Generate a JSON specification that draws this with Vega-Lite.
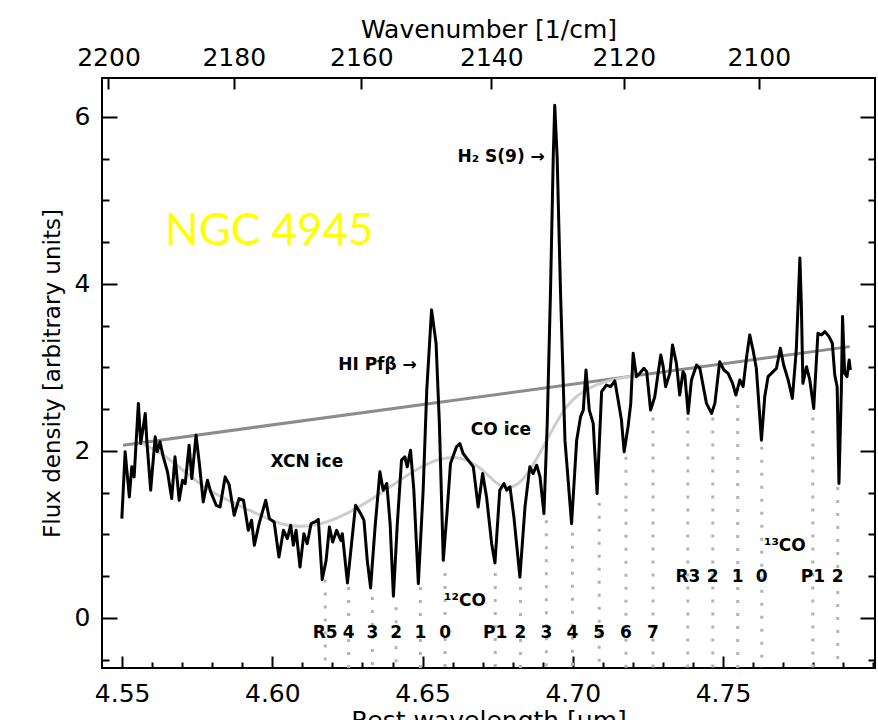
{
  "$schema": "https://vega.github.io/schema/vega-lite/v6.json",
  "width": 773,
  "height": 590,
  "autosize": {"type": "none"},
  "padding": {"left": 102, "top": 78, "right": 3, "bottom": 52},
  "background": "white",
  "config": {
    "view": {"stroke": "black", "strokeWidth": 2},
    "axis": {
      "labelFont": "DejaVu Sans", "titleFont": "DejaVu Sans",
      "labelColor": "black", "titleColor": "black", "tickColor": "black",
      "labelFontSize": 25, "titleFontSize": 25, "titleFontWeight": "normal",
      "tickWidth": 2, "domain": false, "grid": false
    }
  },
  "datasets": {
    "spec": [
      {"w":4.5499,"f":1.19},{"w":4.5510,"f":1.99},{"w":4.5524,"f":1.45},{"w":4.5532,"f":1.81},{"w":4.5540,"f":1.69},
      {"w":4.5554,"f":2.57},{"w":4.5562,"f":2.09},{"w":4.5577,"f":2.45},{"w":4.5582,"f":2.13},{"w":4.5595,"f":1.53},
      {"w":4.5610,"f":2.17},{"w":4.5617,"f":1.99},{"w":4.5626,"f":2.11},{"w":4.5637,"f":1.93},{"w":4.5651,"f":1.75},
      {"w":4.5665,"f":1.43},{"w":4.5676,"f":1.93},{"w":4.5690,"f":1.41},{"w":4.5701,"f":1.65},{"w":4.5710,"f":1.61},
      {"w":4.5723,"f":2.07},{"w":4.5732,"f":1.67},{"w":4.5746,"f":2.19},{"w":4.5757,"f":1.85},{"w":4.5770,"f":1.39},
      {"w":4.5784,"f":1.65},{"w":4.5795,"f":1.51},{"w":4.5813,"f":1.35},{"w":4.5826,"f":1.33},{"w":4.5843,"f":1.69},
      {"w":4.5856,"f":1.60},{"w":4.5873,"f":1.23},{"w":4.5889,"f":1.43},{"w":4.5904,"f":1.41},{"w":4.5920,"f":1.05},
      {"w":4.5931,"f":1.17},{"w":4.5940,"f":0.87},{"w":4.5956,"f":1.13},{"w":4.5978,"f":1.41},{"w":4.5990,"f":1.19},
      {"w":4.6006,"f":1.15},{"w":4.6022,"f":0.73},{"w":4.6037,"f":1.05},{"w":4.6050,"f":0.95},{"w":4.6061,"f":1.11},
      {"w":4.6070,"f":0.87},{"w":4.6079,"f":1.05},{"w":4.6092,"f":0.61},{"w":4.6105,"f":1.01},{"w":4.6116,"f":0.89},
      {"w":4.6129,"f":1.13},{"w":4.6142,"f":1.15},{"w":4.6153,"f":1.18},{"w":4.6166,"f":0.46},{"w":4.6179,"f":0.69},
      {"w":4.6190,"f":1.09},{"w":4.6201,"f":0.91},{"w":4.6214,"f":1.05},{"w":4.6228,"f":0.93},{"w":4.6233,"f":1.01},
      {"w":4.6250,"f":0.42},{"w":4.6277,"f":1.35},{"w":4.6294,"f":1.25},{"w":4.6305,"f":1.17},{"w":4.6316,"f":0.69},
      {"w":4.6327,"f":0.36},{"w":4.6342,"f":1.09},{"w":4.6358,"f":1.75},{"w":4.6369,"f":1.53},{"w":4.6381,"f":1.61},
      {"w":4.6392,"f":1.13},{"w":4.6403,"f":0.26},{"w":4.6416,"f":1.13},{"w":4.6430,"f":1.89},{"w":4.6441,"f":1.93},
      {"w":4.6449,"f":1.81},{"w":4.6460,"f":2.01},{"w":4.6471,"f":1.53},{"w":4.6486,"f":0.41},{"w":4.6502,"f":1.53},
      {"w":4.6514,"f":2.73},{"w":4.6530,"f":3.69},{"w":4.6545,"f":3.29},{"w":4.6556,"f":2.33},{"w":4.6569,"f":0.69},
      {"w":4.6582,"f":1.29},{"w":4.6593,"f":1.85},{"w":4.6613,"f":2.05},{"w":4.6624,"f":2.09},{"w":4.6635,"f":1.97},
      {"w":4.6652,"f":1.89},{"w":4.6669,"f":1.81},{"w":4.6685,"f":1.33},{"w":4.6700,"f":1.73},{"w":4.6713,"f":1.45},
      {"w":4.6730,"f":0.89},{"w":4.6741,"f":0.66},{"w":4.6757,"f":1.53},{"w":4.6771,"f":1.61},{"w":4.6780,"f":1.53},
      {"w":4.6791,"f":1.57},{"w":4.6804,"f":1.21},{"w":4.6824,"f":0.49},{"w":4.6841,"f":1.33},{"w":4.6857,"f":1.81},
      {"w":4.6868,"f":1.73},{"w":4.6880,"f":1.83},{"w":4.6891,"f":1.69},{"w":4.6904,"f":1.25},{"w":4.6915,"f":2.33},
      {"w":4.6926,"f":3.93},{"w":4.6935,"f":5.52},{"w":4.6940,"f":6.14},{"w":4.6948,"f":5.52},{"w":4.6959,"f":3.93},
      {"w":4.6974,"f":2.13},{"w":4.6996,"f":1.13},{"w":4.7013,"f":2.13},{"w":4.7026,"f":2.41},{"w":4.7035,"f":2.49},
      {"w":4.7044,"f":2.97},{"w":4.7055,"f":2.49},{"w":4.7068,"f":2.33},{"w":4.7081,"f":1.49},{"w":4.7096,"f":2.71},
      {"w":4.7112,"f":2.79},{"w":4.7126,"f":2.77},{"w":4.7140,"f":2.84},{"w":4.7151,"f":2.61},{"w":4.7162,"f":2.37},
      {"w":4.7171,"f":1.99},{"w":4.7184,"f":2.29},{"w":4.7193,"f":2.57},{"w":4.7201,"f":3.17},{"w":4.7212,"f":2.89},
      {"w":4.7223,"f":2.93},{"w":4.7237,"f":2.99},{"w":4.7246,"f":2.95},{"w":4.7259,"f":2.49},{"w":4.7273,"f":2.65},
      {"w":4.7284,"f":2.93},{"w":4.7293,"f":3.15},{"w":4.7301,"f":3.01},{"w":4.7309,"f":2.77},{"w":4.7323,"f":2.93},
      {"w":4.7332,"f":3.27},{"w":4.7345,"f":3.05},{"w":4.7356,"f":2.67},{"w":4.7367,"f":2.95},{"w":4.7373,"f":2.91},
      {"w":4.7384,"f":2.45},{"w":4.7395,"f":2.85},{"w":4.7412,"f":3.03},{"w":4.7423,"f":2.99},{"w":4.7445,"f":2.57},
      {"w":4.7462,"f":2.45},{"w":4.7473,"f":2.57},{"w":4.7489,"f":3.07},{"w":4.7503,"f":2.97},{"w":4.7517,"f":2.93},
      {"w":4.7532,"f":2.81},{"w":4.7543,"f":2.67},{"w":4.7556,"f":2.85},{"w":4.7567,"f":2.77},{"w":4.7578,"f":3.11},
      {"w":4.7589,"f":3.39},{"w":4.7600,"f":3.21},{"w":4.7611,"f":2.99},{"w":4.7628,"f":2.13},{"w":4.7639,"f":2.65},
      {"w":4.7650,"f":2.89},{"w":4.7667,"f":2.95},{"w":4.7678,"f":2.99},{"w":4.7691,"f":3.23},{"w":4.7702,"f":3.03},
      {"w":4.7717,"f":2.85},{"w":4.7731,"f":2.63},{"w":4.7744,"f":3.21},{"w":4.7756,"f":4.31},{"w":4.7761,"f":3.73},
      {"w":4.7766,"f":2.81},{"w":4.7778,"f":3.01},{"w":4.7789,"f":2.85},{"w":4.7802,"f":2.51},{"w":4.7816,"f":3.41},
      {"w":4.7828,"f":3.39},{"w":4.7839,"f":3.43},{"w":4.7853,"f":3.37},{"w":4.7864,"f":3.29},{"w":4.7872,"f":2.91},
      {"w":4.7880,"f":2.77},{"w":4.7886,"f":1.61},{"w":4.7894,"f":2.73},{"w":4.7898,"f":3.61},{"w":4.7905,"f":2.93},
      {"w":4.7913,"f":2.89},{"w":4.7920,"f":3.09},{"w":4.7924,"f":2.97}
    ],
    "cont": [{"w":4.5503,"f":2.07},{"w":4.7922,"f":3.25}],
    "ice": [
      {"w":4.5560,"f":2.10},{"w":4.5626,"f":1.99},{"w":4.5693,"f":1.80},{"w":4.5769,"f":1.57},{"w":4.5849,"f":1.41},
      {"w":4.5926,"f":1.29},{"w":4.6036,"f":1.09},{"w":4.6149,"f":1.09},{"w":4.6258,"f":1.26},{"w":4.6368,"f":1.50},
      {"w":4.6468,"f":1.77},{"w":4.6568,"f":1.93},{"w":4.6624,"f":1.93},{"w":4.6691,"f":1.82},{"w":4.6748,"f":1.59},
      {"w":4.6791,"f":1.53},{"w":4.6847,"f":1.68},{"w":4.6914,"f":2.13},{"w":4.6980,"f":2.59},{"w":4.7067,"f":2.79},
      {"w":4.7147,"f":2.87},{"w":4.7223,"f":2.91}
    ],
    "lines": [
      {"w":4.6176,"top":0.46,"lab":"R5","ly":-0.18},{"w":4.6254,"top":0.37,"lab":"4","ly":-0.18},
      {"w":4.6333,"top":0.25,"lab":"3","ly":-0.18},{"w":4.6412,"top":0.13,"lab":"2","ly":-0.18},
      {"w":4.6493,"top":0.37,"lab":"1","ly":-0.18},{"w":4.6575,"top":0.54,"lab":"0","ly":-0.18},
      {"w":4.6742,"top":0.54,"lab":"P1","ly":-0.18},{"w":4.6826,"top":0.37,"lab":"2","ly":-0.18},
      {"w":4.6912,"top":1.17,"lab":"3","ly":-0.18},{"w":4.6999,"top":1.02,"lab":"4","ly":-0.18},
      {"w":4.7088,"top":1.38,"lab":"5","ly":-0.18},{"w":4.7177,"top":1.93,"lab":"6","ly":-0.18},
      {"w":4.7267,"top":2.40,"lab":"7","ly":-0.18},
      {"w":4.7383,"top":2.40,"lab":"R3","ly":0.49},{"w":4.7466,"top":2.40,"lab":"2","ly":0.49},
      {"w":4.7549,"top":2.55,"lab":"1","ly":0.49},{"w":4.7629,"top":2.05,"lab":"0","ly":0.49},
      {"w":4.7799,"top":2.40,"lab":"P1","ly":0.49},{"w":4.7882,"top":1.57,"lab":"2","ly":0.49}
    ],
    "notesC": [
      {"w":4.6115,"f":1.87,"t":"XCN ice"},
      {"w":4.6761,"f":2.25,"t":"CO ice"},
      {"w":4.6641,"f":0.20,"t":"¹²CO"},
      {"w":4.7706,"f":0.86,"t":"¹³CO"}
    ],
    "notesR": [
      {"w":4.6907,"f":5.52,"t":"H₂ S(9) →"},
      {"w":4.6481,"f":3.03,"t":"HI Pfβ →"}
    ],
    "title": [{"w":4.5643,"f":4.47,"t":"NGC 4945"}]
  },
  "resolve": {"axis": {"x": "independent", "y": "independent"}},
  "layer": [
    {
      "data": {"name": "lines"},
      "mark": {"type": "rule", "color": "#b4b4b4", "strokeWidth": 3, "strokeDash": [3, 10]},
      "encoding": {
        "x": {"field": "w", "type": "quantitative", "scale": {"domain": [4.5433, 4.8006], "nice": false, "zero": false}, "axis": null},
        "y": {"field": "top", "type": "quantitative", "scale": {"domain": [-0.599, 6.467], "nice": false, "zero": false},
              "axis": {"orient": "right", "values": [-0.5,0.5,1,1.5,2.5,3,3.5,4.5,5,5.5,6.5], "labels": false, "tickSize": -7, "title": null}},
        "y2": {"datum": -0.599}
      }
    },
    {
      "data": {"name": "cont"},
      "mark": {"type": "line", "color": "#8c8c8c", "strokeWidth": 3},
      "encoding": {
        "x": {"field": "w", "type": "quantitative", "scale": {"domain": [4.5433, 4.8006], "nice": false, "zero": false},
              "axis": {"orient": "bottom", "values": [4.56,4.57,4.58,4.59,4.61,4.62,4.63,4.64,4.66,4.67,4.68,4.69,4.71,4.72,4.73,4.74,4.76,4.77,4.78,4.79,4.80], "labels": false, "tickSize": -6, "title": null}},
        "y": {"field": "f", "type": "quantitative", "scale": {"domain": [-0.599, 6.467], "nice": false, "zero": false},
              "axis": {"orient": "left", "values": [-0.5,0.5,1,1.5,2.5,3,3.5,4.5,5,5.5,6.5], "labels": false, "tickSize": -7, "title": null}}
      }
    },
    {
      "data": {"name": "ice"},
      "mark": {"type": "line", "color": "#cdcdcd", "strokeWidth": 3, "interpolate": "basis"},
      "encoding": {
        "x": {"field": "w", "type": "quantitative", "scale": {"domain": [4.5433, 4.8006], "nice": false, "zero": false},
              "axis": {"orient": "top", "values": [4.545455, 4.587156, 4.629630, 4.672897, 4.716981, 4.761905],
                       "labelExpr": "format(round(10000 / datum.value), 'd')", "tickSize": -11, "labelPadding": 19,
                       "title": "Wavenumber [1/cm]", "titlePadding": 3}},
        "y": {"field": "f", "type": "quantitative", "scale": {"domain": [-0.599, 6.467], "nice": false, "zero": false},
              "axis": {"orient": "right", "values": [0, 2, 4, 6], "labels": false, "tickSize": -15, "title": null}}
      }
    },
    {
      "data": {"name": "spec"},
      "mark": {"type": "line", "color": "black", "strokeWidth": 3, "strokeJoin": "round"},
      "encoding": {
        "x": {"field": "w", "type": "quantitative", "scale": {"domain": [4.5433, 4.8006], "nice": false, "zero": false},
              "axis": {"orient": "bottom", "values": [4.55, 4.60, 4.65, 4.70, 4.75], "format": ".2f", "tickSize": -12, "labelPadding": 25,
                       "title": "Rest wavelength [µm]", "titlePadding": 2}},
        "y": {"field": "f", "type": "quantitative", "scale": {"domain": [-0.599, 6.467], "nice": false, "zero": false},
              "axis": {"orient": "left", "values": [0, 2, 4, 6], "tickSize": -15, "labelPadding": 27,
                       "title": "Flux density [arbitrary units]", "titleFontSize": 23, "titlePadding": 10}}
      }
    },
    {
      "data": {"name": "lines"},
      "mark": {"type": "text", "font": "DejaVu Sans", "fontSize": 17, "fontWeight": "bold", "color": "black", "align": "center", "baseline": "middle"},
      "encoding": {
        "x": {"field": "w", "type": "quantitative", "scale": {"domain": [4.5433, 4.8006], "nice": false, "zero": false}, "axis": null},
        "y": {"field": "ly", "type": "quantitative", "scale": {"domain": [-0.599, 6.467], "nice": false, "zero": false}, "axis": null},
        "text": {"field": "lab"}
      }
    },
    {
      "data": {"name": "notesC"},
      "mark": {"type": "text", "font": "DejaVu Sans", "fontSize": 17, "fontWeight": "bold", "color": "black", "align": "center", "baseline": "middle"},
      "encoding": {
        "x": {"field": "w", "type": "quantitative", "scale": {"domain": [4.5433, 4.8006], "nice": false, "zero": false}, "axis": null},
        "y": {"field": "f", "type": "quantitative", "scale": {"domain": [-0.599, 6.467], "nice": false, "zero": false}, "axis": null},
        "text": {"field": "t"}
      }
    },
    {
      "data": {"name": "notesR"},
      "mark": {"type": "text", "font": "DejaVu Sans", "fontSize": 17, "fontWeight": "bold", "color": "black", "align": "right", "baseline": "middle"},
      "encoding": {
        "x": {"field": "w", "type": "quantitative", "scale": {"domain": [4.5433, 4.8006], "nice": false, "zero": false}, "axis": null},
        "y": {"field": "f", "type": "quantitative", "scale": {"domain": [-0.599, 6.467], "nice": false, "zero": false}, "axis": null},
        "text": {"field": "t"}
      }
    },
    {
      "data": {"name": "title"},
      "mark": {"type": "text", "font": "Lato", "fontSize": 44, "color": "#ffff00", "align": "left", "baseline": "alphabetic"},
      "encoding": {
        "x": {"field": "w", "type": "quantitative", "scale": {"domain": [4.5433, 4.8006], "nice": false, "zero": false}, "axis": null},
        "y": {"field": "f", "type": "quantitative", "scale": {"domain": [-0.599, 6.467], "nice": false, "zero": false}, "axis": null},
        "text": {"field": "t"}
      }
    }
  ]
}
